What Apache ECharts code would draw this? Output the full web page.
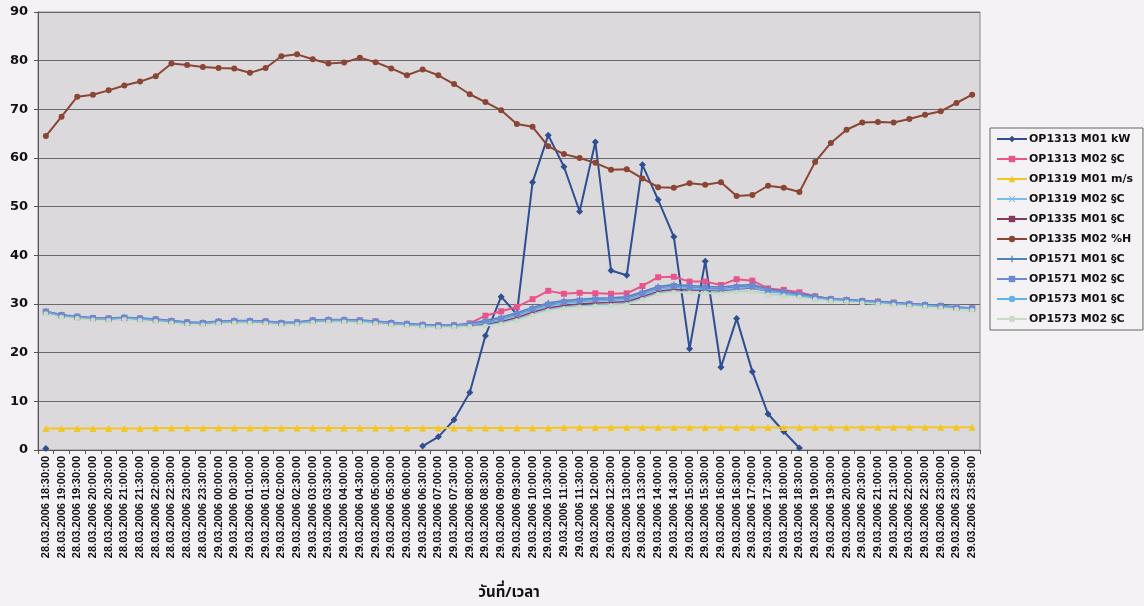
<!DOCTYPE html>
<html>
<head>
<meta charset="utf-8">
<script src="https://cdn.jsdelivr.net/npm/echarts@6/dist/echarts.min.js"></script>
<style>
html,body{margin:0;padding:0;background:#f4f2f4;}
#chart{width:1144px;height:606px;}
</style>
</head>
<body>
<div id="chart"></div>
<script>
var categories = [
"28.03.2006 18:30:00","28.03.2006 19:00:00","28.03.2006 19:30:00","28.03.2006 20:00:00","28.03.2006 20:30:00",
"28.03.2006 21:00:00","28.03.2006 21:30:00","28.03.2006 22:00:00","28.03.2006 22:30:00","28.03.2006 23:00:00",
"28.03.2006 23:30:00","29.03.2006 00:00:00","29.03.2006 00:30:00","29.03.2006 01:00:00","29.03.2006 01:30:00",
"29.03.2006 02:00:00","29.03.2006 02:30:00","29.03.2006 03:00:00","29.03.2006 03:30:00","29.03.2006 04:00:00",
"29.03.2006 04:30:00","29.03.2006 05:00:00","29.03.2006 05:30:00","29.03.2006 06:00:00","29.03.2006 06:30:00",
"29.03.2006 07:00:00","29.03.2006 07:30:00","29.03.2006 08:00:00","29.03.2006 08:30:00","29.03.2006 09:00:00",
"29.03.2006 09:30:00","29.03.2006 10:00:00","29.03.2006 10:30:00","29.03.2006 11:00:00","29.03.2006 11:30:00",
"29.03.2006 12:00:00","29.03.2006 12:30:00","29.03.2006 13:00:00","29.03.2006 13:30:00","29.03.2006 14:00:00",
"29.03.2006 14:30:00","29.03.2006 15:00:00","29.03.2006 15:30:00","29.03.2006 16:00:00","29.03.2006 16:30:00",
"29.03.2006 17:00:00","29.03.2006 17:30:00","29.03.2006 18:00:00","29.03.2006 18:30:00","29.03.2006 19:00:00",
"29.03.2006 19:30:00","29.03.2006 20:00:00","29.03.2006 20:30:00","29.03.2006 21:00:00","29.03.2006 21:30:00",
"29.03.2006 22:00:00","29.03.2006 22:30:00","29.03.2006 23:00:00","29.03.2006 23:30:00","29.03.2006 23:58:00"
];

var yTicks = [0, 10, 20, 30, 40, 50, 60, 70, 80, 90];

var op1313_m01_kw = [0.3,null,null,null,null,null,null,null,null,null,
null,null,null,null,null,null,null,null,null,null,
null,null,null,null,0.8,2.7,6.2,11.8,23.5,31.5,
27.9,55.0,64.7,58.2,49.0,63.3,36.9,35.9,58.6,51.4,
43.8,20.8,38.8,17.0,27.0,16.1,7.4,3.8,0.4,null,
null,null,null,null,null,null,null,null,null,null];

var op1313_m02_c = [28.4,27.7,27.3,27.1,27.0,27.1,27.0,26.8,26.5,26.2,26.1,26.3,26.5,26.5,26.4,26.1,26.2,26.6,26.7,26.6,26.6,26.4,26.1,25.9,25.7,25.6,25.6,26.0,
27.6,28.5,29.4,31.0,32.7,32.1,32.3,32.2,32.1,32.2,33.7,35.5,35.6,34.6,34.6,33.9,35.1,34.8,33.2,32.9,32.4,31.6,31.0,30.8,30.6,30.5,30.3,30.0,29.8,29.6,29.3,29.1];

var op1319_m01_ms = [4.4,4.4,4.4,4.4,4.4,4.4,4.4,4.5,4.5,4.5,
4.5,4.5,4.5,4.5,4.5,4.5,4.5,4.5,4.5,4.5,
4.5,4.5,4.5,4.5,4.5,4.5,4.5,4.5,4.5,4.5,
4.5,4.5,4.5,4.6,4.6,4.6,4.6,4.6,4.6,4.6,
4.6,4.6,4.6,4.6,4.6,4.6,4.6,4.6,4.6,4.6,
4.6,4.6,4.6,4.7,4.7,4.7,4.7,4.7,4.7,4.7];

var op1319_m02_c = [28.1,27.4,27.1,26.8,26.7,26.9,26.7,26.5,26.2,25.9,25.8,26.1,26.2,26.2,26.1,25.8,25.9,26.3,26.4,26.4,26.3,26.1,25.8,25.6,25.4,25.3,25.3,25.5,
25.6,26.0,26.8,27.9,28.8,29.3,29.6,29.8,29.9,30.1,31.1,32.2,32.6,32.4,32.3,32.2,32.5,32.6,32.0,31.8,31.5,31.0,30.7,30.5,30.3,30.1,29.9,29.7,29.5,29.3,29.0,28.8];

var op1335_m01_c = [28.2,27.5,27.2,26.9,26.8,27.0,26.8,26.6,26.3,26.0,25.9,26.2,26.3,26.3,26.2,25.9,26.0,26.4,26.5,26.5,26.4,26.2,25.9,25.7,25.5,25.4,25.4,25.6,
25.9,26.4,27.2,28.3,29.2,29.7,30.0,30.2,30.3,30.5,31.5,32.6,33.0,32.9,32.8,32.7,33.1,33.3,32.6,32.4,32.0,31.4,31.0,30.8,30.6,30.4,30.2,30.0,29.8,29.6,29.3,29.1];

var op1335_m02_h = [64.5,68.5,72.6,73.0,73.9,74.9,75.7,76.8,79.4,79.1,
78.7,78.5,78.4,77.5,78.5,80.9,81.3,80.3,79.4,79.6,
80.6,79.7,78.4,77.0,78.2,77.0,75.2,73.1,71.5,69.8,
67.0,66.4,62.4,60.8,60.0,59.0,57.6,57.7,55.8,54.0,
53.9,54.8,54.5,55.0,52.2,52.4,54.3,53.9,53.0,59.2,
63.1,65.8,67.3,67.4,67.3,68.0,68.9,69.6,71.3,73.0];

var op1571_m01_c = [28.5,27.8,27.5,27.2,27.1,27.3,27.1,26.9,26.6,26.3,26.2,26.5,26.6,26.6,26.5,26.2,26.3,26.7,26.8,26.8,26.7,26.5,26.2,26.0,25.8,25.7,25.7,26.0,
26.6,27.3,28.2,29.3,30.2,30.7,31.0,31.2,31.3,31.5,32.5,33.6,34.0,33.8,33.6,33.5,33.8,34.0,33.1,32.6,32.1,31.6,31.1,30.9,30.7,30.5,30.3,30.1,29.9,29.7,29.4,29.2];

var op1571_m02_c = [28.4,27.7,27.4,27.1,27.0,27.2,27.0,26.8,26.5,26.2,26.1,26.4,26.5,26.5,26.4,26.1,26.2,26.6,26.7,26.7,26.6,26.4,26.1,25.9,25.7,25.6,25.6,25.9,
26.3,27.0,27.9,29.0,29.9,30.4,30.7,30.9,31.0,31.2,32.2,33.3,33.7,33.5,33.3,33.2,33.5,33.7,32.8,32.4,31.9,31.4,31.0,30.8,30.6,30.4,30.2,30.0,29.8,29.6,29.3,29.1];

var op1573_m01_c = [28.3,27.6,27.3,27.0,26.9,27.1,26.9,26.7,26.4,26.1,26.0,26.3,26.4,26.4,26.3,26.0,26.1,26.5,26.6,26.6,26.5,26.3,26.0,25.8,25.6,25.5,25.5,25.8,
26.0,26.7,27.6,28.7,29.6,30.1,30.4,30.6,30.7,30.9,31.9,33.0,33.4,33.2,33.0,32.9,33.2,33.4,32.6,32.2,31.7,31.3,30.9,30.7,30.5,30.3,30.1,29.9,29.7,29.5,29.2,29.0];

var op1573_m02_c = [28.0,27.3,27.0,26.7,26.6,26.8,26.6,26.4,26.1,25.8,25.7,26.0,26.1,26.1,26.0,25.7,25.8,26.2,26.3,26.3,26.2,26.0,25.7,25.5,25.3,25.2,25.2,25.4,
25.5,25.9,26.6,27.7,28.6,29.1,29.4,29.6,29.7,29.9,30.9,32.0,32.4,32.3,32.2,32.1,32.4,32.5,31.9,31.7,31.4,30.9,30.6,30.4,30.2,30.0,29.8,29.6,29.4,29.2,28.9,28.7];

var seriesNames = ["OP1313 M01 kW","OP1313 M02 \u00a7C","OP1319 M01 m/s","OP1319 M02 \u00a7C","OP1335 M01 \u00a7C",
"OP1335 M02 %H","OP1571 M01 \u00a7C","OP1571 M02 \u00a7C","OP1573 M01 \u00a7C","OP1573 M02 \u00a7C"];

var X_PATH = 'path://M0,1.2L1.2,0L5,3.8L8.8,0L10,1.2L6.2,5L10,8.8L8.8,10L5,6.2L1.2,10L0,8.8L3.8,5Z';
var PLUS_PATH = 'path://M4,0H6V4H10V6H6V10H4V6H0V4H4Z';
var DASH_PATH = 'path://M0,4H10V6H0Z';

function mk(name, data, color, symbol, size, width, z) {
  return {
    name: name, type: 'line', data: data, symbol: symbol, symbolSize: size,
    showSymbol: symbol !== 'none', connectNulls: false, z: z,
    lineStyle: {color: color, width: width},
    itemStyle: {color: color, borderColor: color, borderWidth: 0},
    emphasis: {disabled: true}
  };
}

var series = [
  mk(seriesNames[0], op1313_m01_kw, '#2f4f92', 'diamond', 7, 2, 3),
  mk(seriesNames[1], op1313_m02_c, '#e8558c', 'rect', 6, 2, 3),
  mk(seriesNames[2], op1319_m01_ms, '#f2c623', 'triangle', 7, 2, 3),
  mk(seriesNames[3], op1319_m02_c, '#78bde8', X_PATH, 5, 1.5, 3),
  mk(seriesNames[4], op1335_m01_c, '#86395e', 'rect', 4, 1.5, 3),
  mk(seriesNames[5], op1335_m02_h, '#8a4534', 'circle', 6, 2, 3),
  mk(seriesNames[6], op1571_m01_c, '#4f82b8', PLUS_PATH, 6, 1.5, 3),
  mk(seriesNames[7], op1571_m02_c, '#6d89d2', DASH_PATH, 6, 1.5, 3),
  mk(seriesNames[8], op1573_m01_c, '#62b2ea', 'none', 6, 1.5, 3),
  mk(seriesNames[9], op1573_m02_c, '#c9dcc3', 'circle', 5, 1.5, 3)
];

var chart = echarts.init(document.getElementById('chart'), null, {renderer: 'canvas'});
chart.setOption({
  animation: false,
  backgroundColor: '#f4f2f4',
  grid: {
    left: 38, right: 164, top: 12, bottom: 153,
    show: true, backgroundColor: '#dbd9dc', borderColor: '#8a888a', borderWidth: 1
  },
  legend: {
    orient: 'vertical', left: 990, top: 128,
    data: seriesNames,
    itemWidth: 30, itemHeight: 8, itemGap: 6,
    padding: [4, 10, 4, 6],
    borderColor: '#666', borderWidth: 1, backgroundColor: '#f4f2f4',
    textStyle: {fontFamily: 'DejaVu Sans', fontWeight: 'bold', fontSize: 11, color: '#111', lineHeight: 14, padding: [0, 0, 0, -3]}
  },
  xAxis: {
    type: 'category', data: categories, boundaryGap: true,
    name: 'วันที่/เวลา', nameLocation: 'middle', nameGap: 136,
    nameTextStyle: {fontFamily: "'Noto Sans Thai', 'Noto Sans', 'DejaVu Sans', sans-serif", fontWeight: 'bold', fontSize: 15, color: '#111'},
    axisLine: {show: true, lineStyle: {color: '#555', width: 1}},
    axisTick: {show: true, interval: 0, length: 4, lineStyle: {color: '#555'}},
    axisLabel: {interval: 0, rotate: 90, margin: 6, fontFamily: 'Liberation Sans', fontWeight: 'bold', fontSize: 11, color: '#111'},
    splitLine: {show: false}
  },
  yAxis: {
    type: 'value', min: yTicks[0], max: yTicks[yTicks.length - 1], interval: 10,
    axisLine: {show: true, lineStyle: {color: '#555', width: 1}},
    axisTick: {show: true, length: 4, lineStyle: {color: '#555'}},
    axisLabel: {margin: 10, fontFamily: 'DejaVu Sans', fontWeight: 'bold', fontSize: 13, color: '#111'},
    splitLine: {show: true, lineStyle: {color: '#6a686a', width: 1}}
  },
  series: series
});
</script>
</body>
</html>
